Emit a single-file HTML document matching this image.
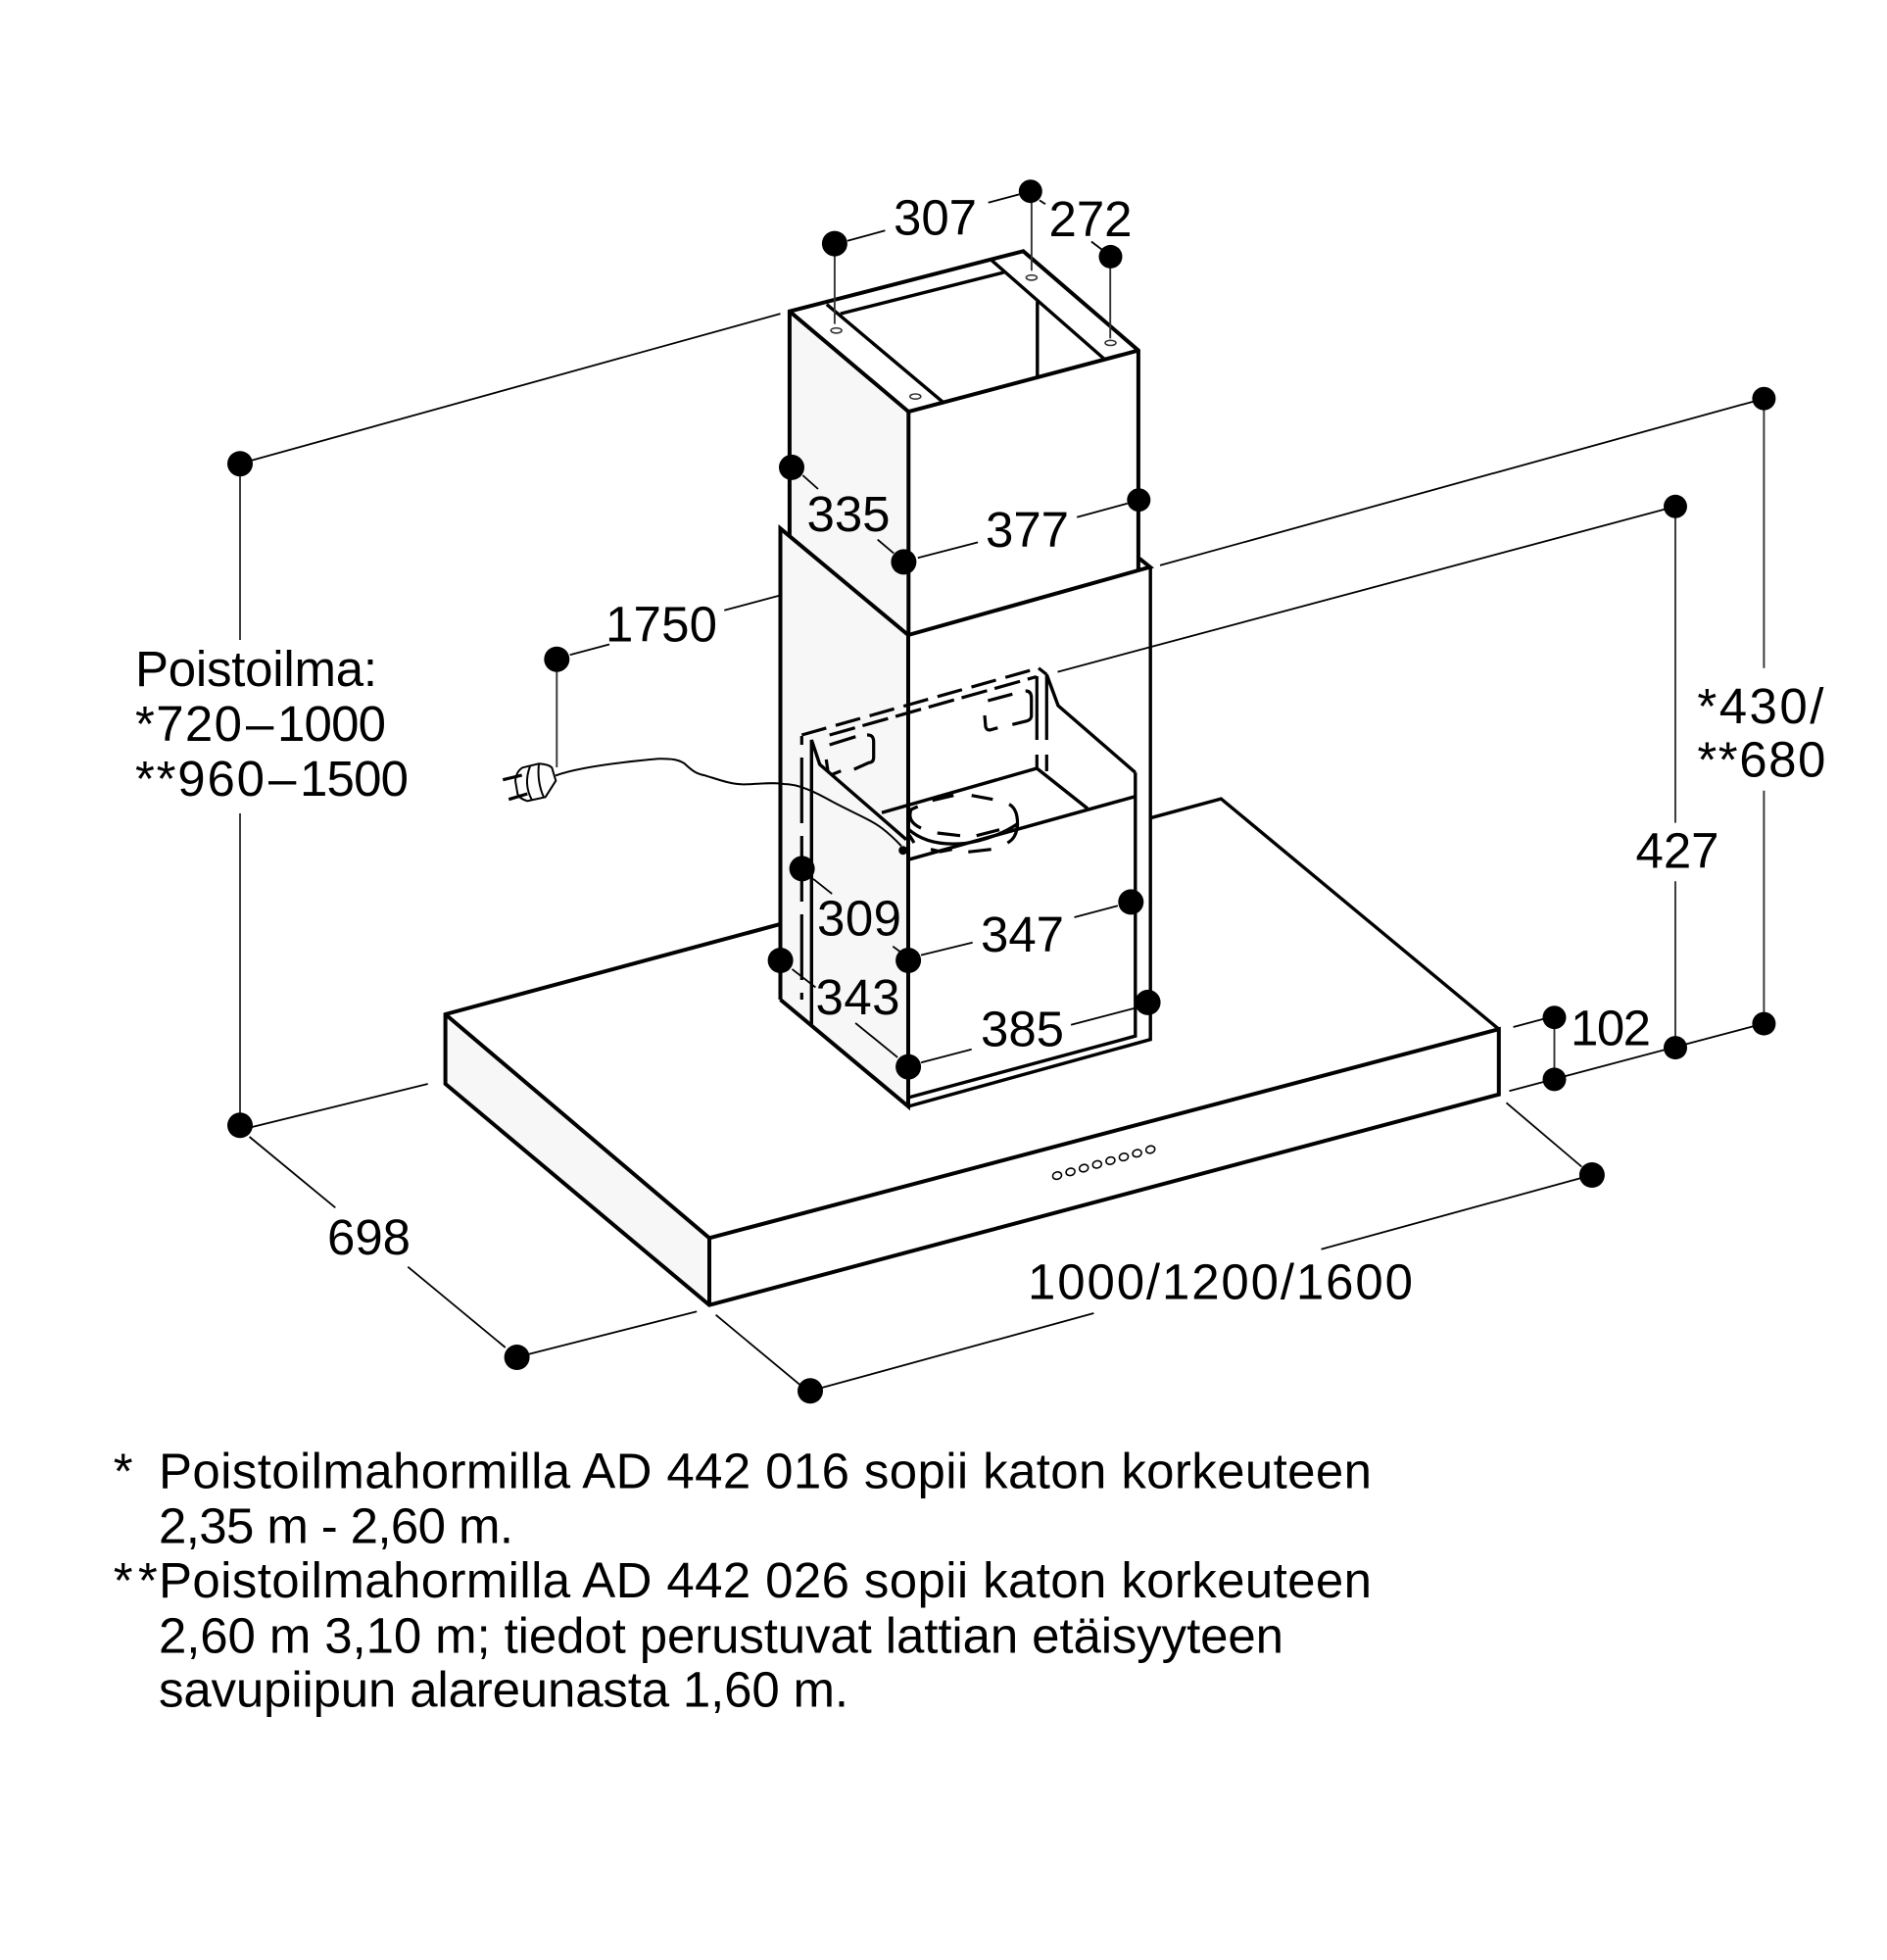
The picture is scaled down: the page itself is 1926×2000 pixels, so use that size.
<!DOCTYPE html>
<html lang="fi">
<head>
<meta charset="utf-8">
<title>Mittapiirros</title>
<style>
html,body{margin:0;padding:0;background:#fff}
svg{display:block}
text{font-family:"Liberation Sans",Arial,sans-serif;font-size:50px;fill:#000}
.b{font-size:51px}
.o{fill:none;stroke:#000;stroke-width:4;stroke-linejoin:miter;stroke-linecap:butt}
.i{fill:none;stroke:#000;stroke-width:3.4;stroke-linejoin:miter}
.t{fill:none;stroke:#000;stroke-width:1.8}
.v{fill:none;stroke:#333;stroke-width:1.9}
.d{fill:none;stroke:#000;stroke-width:3.2}
.s{fill:none;stroke:#000;stroke-width:2}
</style>
</head>
<body>
<svg width="1926" height="2000" viewBox="0 0 1926 2000" xmlns="http://www.w3.org/2000/svg">
<rect width="1926" height="2000" fill="#fff"/>

<!-- hood -->
<polygon points="454.6,1035 724,1263.3 724,1331.7 454.6,1106" fill="#f7f7f7"/>
<path class="o" d="M795.6,943.2 L454.6,1035 V1106 L724,1331.7 L1529.8,1116.8 V1050.2 L724,1263.3 L454.6,1035"/>
<path class="o" d="M724,1263.3 V1331.7"/>
<path class="i" d="M1174.2,834.7 L1246.3,815.1 L1529.8,1050.2"/>
<g fill="#fff" stroke="#000" stroke-width="1.6">
<ellipse cx="1079" cy="1199.600" rx="4.600" ry="3.700" transform="rotate(-15 1079 1199.600)"/>
<ellipse cx="1092.600" cy="1195.800" rx="4.600" ry="3.700" transform="rotate(-15 1092.600 1195.800)"/>
<ellipse cx="1106.200" cy="1192" rx="4.600" ry="3.700" transform="rotate(-15 1106.200 1192)"/>
<ellipse cx="1119.800" cy="1188.200" rx="4.600" ry="3.700" transform="rotate(-15 1119.800 1188.200)"/>
<ellipse cx="1133.400" cy="1184.400" rx="4.600" ry="3.700" transform="rotate(-15 1133.400 1184.400)"/>
<ellipse cx="1147" cy="1180.600" rx="4.600" ry="3.700" transform="rotate(-15 1147 1180.600)"/>
<ellipse cx="1160.600" cy="1176.800" rx="4.600" ry="3.700" transform="rotate(-15 1160.600 1176.800)"/>
<ellipse cx="1174.200" cy="1173" rx="4.600" ry="3.700" transform="rotate(-15 1174.200 1173)"/>
</g>

<!-- upper chimney -->
<polygon points="805.9,317.7 927.3,420.1 927.3,648 805.9,548" fill="#f7f7f7"/>
<path class="o" d="M805.9,548 V317.7 L1044.4,256.3 L1161.9,357.6 V582"/>
<path class="o" d="M805.9,317.7 L927.3,420.1 L1161.9,357.6"/>
<path class="o" d="M927.3,420.1 V648"/>
<path class="i" d="M843.8,310.6 L962.4,410.3"/>
<path class="i" d="M857.8,320.1 L1024.5,278"/>
<path class="i" d="M1012.2,265.700 L1127.2,366.4"/>
<path class="i" d="M1058.8,307.800 V384.300"/>
<g fill="#fff" stroke="#333" stroke-width="1.600">
<ellipse cx="853.600" cy="337.300" rx="5.500" ry="2.600"/>
<ellipse cx="934.300" cy="404.600" rx="5.500" ry="2.600"/>
<ellipse cx="1052.900" cy="283.300" rx="5.500" ry="2.600"/>
<ellipse cx="1133.500" cy="349.900" rx="5.500" ry="2.600"/>
</g>

<!-- lower chimney -->
<polygon points="796.5,539.3 927,648 927,1129 796.5,1020" fill="#f7f7f7"/>
<polygon points="927,648 1173.5,578.6 1174.2,1060.7 927,1129" fill="#fff"/>
<path class="o" d="M796.5,1020 V539.3 L927,648 V1129 L796.500,1020"/>
<path class="o" d="M927,648 L1161.9,582 L1173.800,578.600 L1163,569.900"/>
<path class="i" d="M1174.200,578.600 V1060.700 L927,1129"/>
<path class="i" d="M1158.800,788.300 V1057.200 L927,1120"/>

<!-- inner cutout -->
<path class="i" d="M926.700,877.300 L1158.800,812.700"/>
<path class="i" d="M900,829.300 L1058.300,784 L1110,825"/>
<path class="i" d="M828.300,1045 V755 L836.700,780 L925,856.700"/>
<path class="i" d="M1068.300,688.300 L1080,720 L1158.800,788.300"/>
<path class="d" stroke-dasharray="26 10" d="M818.300,750 L1060,681.700"/>
<path class="d" d="M1060,681.700 L1068.300,688.300"/>
<path class="d" stroke-dasharray="27 8" d="M846.700,750 L1058,690.500"/>
<path class="d" stroke-dasharray="67 13" d="M818.300,773 V1020"/>
<path class="d" d="M818.300,751 V760"/>
<path class="d" d="M1058.300,690 V755 M1058.300,770 V783"/>
<path class="d" d="M1068.300,688 V755 M1068.300,770 V787"/>
<path class="d" d="M846.700,760 L873.300,751.700"/>
<path class="d" d="M885,750 Q891.700,749.500 891.700,757 V773 Q891.700,778 886.700,778.300 L871.700,785"/>
<path class="d" d="M843.300,775 L845,786.700 M850,790 L858.300,786.700"/>
<path class="d" d="M1008.300,715 L1033.300,708.300"/>
<path class="d" d="M1046.700,705 Q1052.700,705 1052.700,712 V731 Q1052,735 1047,736 L1033.300,739.300"/>
<path class="d" d="M1005,730 L1006,741.700 Q1007,745 1010,745 L1018.300,742.700"/>
<!-- duct ring -->
<path class="d" d="M951.700,816.700 L973.300,811.700 M991.700,811.700 L1013.300,815.700"/>
<path class="d" d="M1030,820.700 Q1040,826 1038.300,846"/>
<path class="d" d="M1020,846.700 L996.700,852.700 M980,852.700 L956.700,850"/>
<path class="d" d="M940,845 Q925,838 930,826 L936.700,823"/>
<path class="d" d="M928,852 L933,860 M950,866.700 L960,869 L971.700,866.700 M988.300,869.300 L1011.700,866.700"/>
<path class="d" d="M1028.300,860 Q1038,855 1038.300,841"/>
<path class="d" d="M927,846 C945,862 970,862 985,860.500 C1005,858 1025,850 1038,841"/>

<!-- cord and plug -->
<path class="s" d="M567,791.400 C590,783 630,778 672.200,774.300 C685,774 692,775 698.500,779 C708,788 712,790 720,791.400 C735,796 745,800 758.300,800.400 C775,800 790,798 800,800 C815,800 832,808 850,818.300 C870,829 888,836 900,845 C908,851 915,858 920,863.300"/>
<circle cx="921.700" cy="867.700" r="4.500" fill="#000"/>
<path class="s" fill="#fff" d="M533.300,783.300 L550,779.300 Q560,780 563.300,783.300 L567.300,796.700 L556.700,813.300 L538.300,817.300 Q530,815 528.300,810 L526,796.700 Q527,787 533.300,783.300 Z"/>
<path class="s" d="M541,782 Q534,800 543,816.500"/>
<path class="s" d="M550,779.500 Q548,798 555,813.500"/>
<path class="s" style="stroke-width:3.200" d="M513.300,795.700 L532.700,791 M519.300,815.700 L538.300,810"/>

<!-- dimension lines -->
<g class="t">
<path d="M245,473 L796.500,320.100"/>
<path d="M864.900,245.800 L903.400,235.200"/>
<path d="M1008.700,206.800 L1040.200,198.400"/>
<path d="M1061,204.400 L1067,208.200"/>
<path d="M1113.900,246.500 L1124.400,254.500"/>
<path d="M819.300,485 L835,499"/>
<path d="M895.700,550.600 L912.200,564.600"/>
<path d="M936.800,569.200 L998.100,553.400"/>
<path d="M1099.200,527.800 L1150.700,513.700"/>
<path d="M739.300,622.800 L795.400,607.700"/>
<path d="M581.700,668.300 L622,657.500"/>
<path d="M1184,576.900 L1800.400,406.700"/>
<path d="M1079.500,685.600 L1710,516.800"/>
<path d="M830,896.800 L849.200,912.100"/>
<path d="M911.300,965.700 L918.500,971"/>
<path d="M808.500,988.900 L832.400,1007.500"/>
<path d="M873.100,1043.900 L916.100,1078.900"/>
<path d="M940,974.600 L992.700,961.800"/>
<path d="M1096.500,936 L1140.900,924.300"/>
<path d="M940,1084.300 L991.700,1070.700"/>
<path d="M1093.100,1045.700 L1157.700,1028.900"/>
<path d="M1544.600,1048 L1575.900,1039.600"/>
<path d="M1540.500,1113.300 L1791.500,1046.700"/>
<path d="M1537.500,1125.300 L1614.300,1190.500"/>
<path d="M1348.500,1274.700 L1624.900,1199"/>
<path d="M827,1419.300 L1116.400,1340"/>
<path d="M730.600,1341.700 L816.800,1413.300"/>
<path d="M539.800,1381.700 L711.200,1338.300"/>
<path d="M245,1153 L436.700,1106"/>
<path d="M254.600,1160 L342.300,1232.300"/>
<path d="M416.300,1292.700 L515.800,1375"/>
</g>
<g class="v">
<path d="M245,473 V653 M245,830 V1148"/>
<path d="M568.300,672 V783"/>
<path d="M851.900,248 V330.600"/>
<path d="M1052.900,195 V276.300"/>
<path d="M1133.200,262 V345.400"/>
<path d="M1800.400,407 V681.800 M1800.400,806.700 V1044.600"/>
<path d="M1710,517 V839.600 M1710,899.300 V1069"/>
<path d="M1586.500,1038 V1101"/>
</g>

<!-- dots -->
<g fill="#000">
<circle cx="245" cy="473.200" r="13"/>
<circle cx="245" cy="1148.300" r="13"/>
<circle cx="527.600" cy="1385" r="13"/>
<circle cx="827" cy="1419.300" r="13"/>
<circle cx="1624.900" cy="1199" r="13"/>
<circle cx="851.900" cy="248.600" r="13"/>
<circle cx="1051.800" cy="195.200" r="12"/>
<circle cx="1133.500" cy="261.900" r="12"/>
<circle cx="808" cy="476.900" r="13"/>
<circle cx="922.400" cy="573.400" r="13"/>
<circle cx="1162.300" cy="510.200" r="12"/>
<circle cx="568.300" cy="672.700" r="13"/>
<circle cx="818.600" cy="886.400" r="13"/>
<circle cx="796.600" cy="980" r="13"/>
<circle cx="927.100" cy="980" r="13"/>
<circle cx="927.100" cy="1088.600" r="13"/>
<circle cx="1154.300" cy="920.400" r="13"/>
<circle cx="1171.600" cy="1022.900" r="13"/>
<circle cx="1800.400" cy="406.700" r="12"/>
<circle cx="1710" cy="516.800" r="12"/>
<circle cx="1800.400" cy="1044.600" r="12"/>
<circle cx="1710" cy="1069.100" r="12"/>
<circle cx="1586.500" cy="1038.200" r="12"/>
<circle cx="1586.500" cy="1101.400" r="12"/>
</g>

<!-- labels -->
<text class="b" x="912" y="239.400" textLength="85">307</text>
<text class="b" x="1070.500" y="241.200" textLength="85">272</text>
<text class="b" x="823.500" y="542.100" textLength="85">335</text>
<text class="b" x="1006" y="557.900" textLength="85">377</text>
<text class="b" x="618" y="654.600" textLength="114">1750</text>
<text class="b" x="834" y="954.600" textLength="86">309</text>
<text class="b" x="1001" y="971" textLength="85">347</text>
<text class="b" x="832.500" y="1035" textLength="86">343</text>
<text class="b" x="1001" y="1067.500" textLength="85">385</text>
<text class="b" x="1603" y="1066.300" textLength="82">102</text>
<text class="b" x="1669.500" y="885.300" textLength="85">427</text>
<text class="b" x="1732.400" y="737.900" textLength="129">*430/</text>
<text class="b" x="1732.400" y="792.600" textLength="131">**680</text>
<text class="b" x="1049" y="1325.300" textLength="393">1000/1200/1600</text>
<text class="b" x="334" y="1280" textLength="85">698</text>
<text class="b" x="138" y="700" textLength="247">Poistoilma:</text>
<text class="b" x="138" y="756" textLength="109">*720</text>
<text class="b" x="251" y="756">–</text>
<text class="b" x="283" y="756" textLength="111">1000</text>
<text class="b" x="138" y="812" textLength="132">**960</text>
<text class="b" x="274" y="812">–</text>
<text class="b" x="306" y="812" textLength="111">1500</text>

<text class="b" x="115.700" y="1518.300">*</text>
<text class="b" x="162" y="1518.300" textLength="1238">Poistoilmahormilla AD 442 016 sopii katon korkeuteen</text>
<text class="b" x="162" y="1574.300" textLength="362">2,35 m - 2,60 m.</text>
<text class="b" x="115.700" y="1630" textLength="45">**</text>
<text class="b" x="162" y="1630" textLength="1238">Poistoilmahormilla AD 442 026 sopii katon korkeuteen</text>
<text class="b" x="162" y="1686.700" textLength="1148">2,60 m 3,10 m; tiedot perustuvat lattian etäisyyteen</text>
<text class="b" x="162" y="1741.700" textLength="704">savupiipun alareunasta 1,60 m.</text>
</svg>
</body>
</html>
